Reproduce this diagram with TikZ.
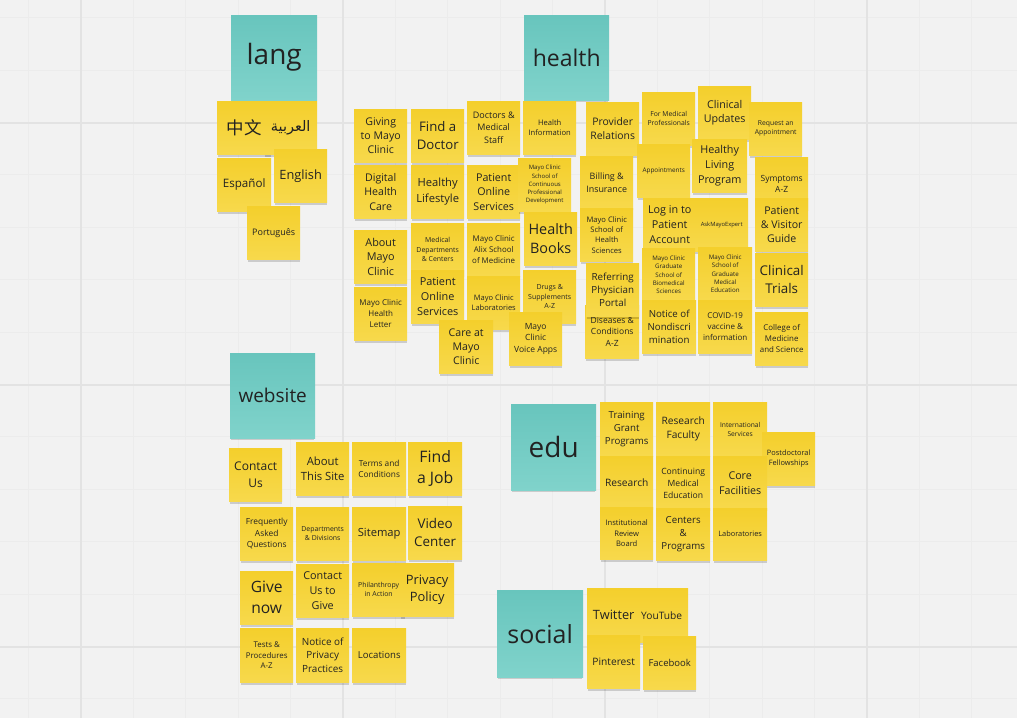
\documentclass[tikz,border=0pt]{standalone}
\usepackage{fontspec}
\setmainfont{Open Sans}
\newfontfamily\cjk{Noto Sans CJK SC}
\newfontfamily\arabicfont[Script=Arabic]{DejaVu Sans}
\TeXXeTstate=1
\usetikzlibrary{shadows}
\definecolor{bgc}{HTML}{F2F2F2}
\definecolor{gridminor}{HTML}{ECECEC}
\definecolor{gridmajor}{HTML}{E3E3E3}
\definecolor{noteyel}{HTML}{F4CF2C}
\definecolor{noteyel2}{HTML}{F7D94C}
\definecolor{tealtop}{HTML}{68C5BD}
\definecolor{tealbot}{HTML}{80D3CB}
\definecolor{ink}{HTML}{222222}
\tikzset{
  f/.code={\pgfmathsetmacro\tmpb{#1*1.36}\edef\tmpfont{\noexpand\fontsize{#1}{\tmpb}\noexpand\selectfont}\tikzset{font/.expand once=\tmpfont}},
  note/.style={anchor=north west, inner sep=0pt, align=center, text=ink,
    minimum width=53pt, minimum height=53pt,
    drop shadow={shadow xshift=0pt, shadow yshift=-3pt, opacity=0.16, fill=black, shadow scale=0.98}},
  yel/.style={note, top color=noteyel, bottom color=noteyel2},
  tl/.style={note, top color=tealtop, bottom color=tealbot, minimum width=85pt, minimum height=85pt},
}
\begin{document}
\begin{tikzpicture}[x=1pt,y=-1pt]
\useasboundingbox (0,0) rectangle (1017,718);
\fill[bgc] (0,0) rectangle (1017,718);
\foreach \i in {0,...,19} \draw[gridminor, line width=0.9pt] ({28.6+52.4*\i},0) -- ({28.6+52.4*\i},718);
\foreach \i in {0,...,13} \draw[gridminor, line width=0.9pt] (0,{17.6+52.4*\i}) -- (1017,{17.6+52.4*\i});
\foreach \xx in {81,343,605,867} \draw[gridmajor, line width=1.8pt] (\xx,0) -- (\xx,718);
\foreach \yy in {122.6,384.8,646.8} \draw[gridmajor, line width=1.8pt] (0,\yy) -- (1017,\yy);

% ---------- lang ----------
\node[tl, minimum width=86pt, f=28] (lang) at (231,15) {lang};
\node[yel, minimum width=54pt, f=17.5] (lzh) at (217,101) {\cjk 中文};
\node[yel, f=14.5] (lar) at (264,101) {\arabicfont\beginR العربية\endR};
\node[yel, minimum width=54pt, f=11.6] (les) at (217,158) {Español};
\node[yel, f=12.8] (len) at (274,149) {English};
\node[yel, f=9] (lpt) at (247,206) {Português};

% ---------- health ----------
\node[tl, f=23] (health) at (524,15) {health};
\node[yel, f=10.6] (hgiving) at (354,109) {Giving\\to Mayo\\Clinic};
\node[yel, f=13.2] (hfind) at (411,109) {Find a\\Doctor};
\node[yel, f=9] (hdocs) at (467,101) {Doctors \&\\Medical\\Staff};
\node[yel, f=7.6] (hinfo) at (523,101) {Health\\Information};
\node[yel, f=10.4] (hprov) at (586,102) {Provider\\Relations};
\node[yel, f=6.8] (hformed) at (642,92) {For Medical\\Professionals};
\node[yel, f=10.7] (hclin) at (698,86) {Clinical\\Updates};
\node[yel, f=6.8] (hreq) at (749,102) {Request an\\Appointment};
\node[yel, f=10.6] (hdigital) at (354,165) {Digital\\Health\\Care};
\node[yel, f=11.2] (hhealthy) at (411,165) {Healthy\\Lifestyle};
\node[yel, f=10.7] (hpos) at (467,165) {Patient\\Online\\Services};
\node[yel, f=6] (hcpd) at (518,158) {Mayo Clinic\\School of\\Continuous\\Professional\\Development};
\node[yel, f=8.9] (hbill) at (580,156) {Billing \&\\Insurance};
\node[yel, f=6.4] (happ) at (637,144) {Appointments};
\node[yel, minimum width=55pt, f=10.8] (hhlp) at (692,139) {Healthy\\Living\\Program};
\node[yel, f=8.5] (hsymp) at (755,157) {Symptoms\\A-Z};
\node[yel, f=14.4] (hbooks) at (524,212) {Health\\Books};
\node[yel, f=7.6] (hmsh) at (580,208) {Mayo Clinic\\School of\\Health\\Sciences};
\node[yel, f=10.8] (hlogin) at (643,198) {Log in to\\Patient\\Account};
\node[yel, f=5.8] (hask) at (695,198) {AskMayoExpert};
\node[yel, f=10.6] (hpvg) at (755,198) {Patient\\\& Visitor\\Guide};
\node[yel, f=10.8] (habout) at (354,230) {About\\Mayo\\Clinic};
\node[yel, f=6.9] (hmeddep) at (411,223) {Medical\\Departments\\\& Centers};
\node[yel, f=10.9] (hpos2) at (411,270) {Patient\\Online\\Services};
\node[yel, f=7.9] (halix) at (467,223) {Mayo Clinic\\Alix School\\of Medicine};
\node[yel, f=7.5] (hmcl) at (467,276) {Mayo Clinic\\Laboratories};
\node[yel, f=7] (hdrugs) at (523,270) {Drugs \&\\Supplements\\A-Z};
\node[yel, f=8] (hmchl) at (354,287) {Mayo Clinic\\Health\\Letter};
\node[yel, minimum width=54pt, f=8.5] (hdis) at (585,305) {Diseases \&\\Conditions\\A-Z};
\node[yel, f=9.8] (href) at (586,263) {Referring\\Physician\\Portal};
\node[yel, f=6.2] (hgsbs) at (642,248) {Mayo Clinic\\Graduate\\School of\\Biomedical\\Sciences};
\node[yel, minimum width=54pt, f=6.2] (hsgme) at (698,247) {Mayo Clinic\\School of\\Graduate\\Medical\\Education};
\node[yel, f=13.4] (htrials) at (755,253) {Clinical\\Trials};
\node[yel, minimum width=54pt, f=9.7] (hnondisc) at (642,300) {Notice of\\Nondiscri\\mination};
\node[yel, minimum width=54pt, f=8] (hcovid) at (698,300) {COVID-19\\vaccine \&\\information};
\node[yel, f=7.9] (hcollege) at (755,312) {College of\\Medicine\\and Science};
\node[yel, minimum width=54pt, f=10.6] (hcare) at (439,320) {Care at\\Mayo\\Clinic};
\node[yel, f=8.5] (hvoice) at (509,312) {Mayo\\Clinic\\Voice Apps};

% ---------- website ----------
\node[tl, f=19] (website) at (230,353) {website};
\node[yel, f=12] (wcontact) at (229,448) {Contact\\Us};
\node[yel, f=11.3] (wabout) at (296,442) {About\\This Site};
\node[yel, minimum width=54pt, f=8.3] (wterms) at (352,442) {Terms and\\Conditions};
\node[yel, minimum width=54pt, f=15.8] (wjob) at (408,442) {Find\\a Job};
\node[yel, f=8.4] (wfaq) at (240,507) {Frequently\\Asked\\Questions};
\node[yel, f=6.9] (wdept) at (296,507) {Departments\\\& Divisions};
\node[yel, minimum width=54pt, f=11.2] (wsitemap) at (352,507) {Sitemap};
\node[yel, minimum width=54pt, f=13.4] (wvideo) at (408,506) {Video\\Center};
\node[yel, f=15.6] (wgive) at (240,571) {Give\\now};
\node[yel, f=10.8] (wcutg) at (296,564) {Contact\\Us to\\Give};
\node[yel, f=6.9] (wphil) at (352,563) {Philanthropy\\in Action};
\node[yel, minimum width=54pt, f=12.9] (wpriv) at (400,563) {Privacy\\Policy};
\node[yel, minimum height=54pt, f=7.9] (wtests) at (240,628) {Tests \&\\Procedures\\A-Z};
\node[yel, minimum height=54pt, f=9.9] (wnopp) at (296,628) {Notice of\\Privacy\\Practices};
\node[yel, minimum width=54pt, minimum height=54pt, f=9.6] (wloc) at (352,628) {Locations};

% ---------- edu ----------
\node[tl, minimum height=86pt, f=28] (edu) at (511,404) {edu};
\node[yel, minimum height=54pt, f=9.7] (etgp) at (600,402) {Training\\Grant\\Programs};
\node[yel, minimum width=54pt, minimum height=54pt, f=10.2] (erfac) at (656,402) {Research\\Faculty};
\node[yel, minimum width=54pt, minimum height=54pt, f=6.7] (eintl) at (713,402) {International\\Services};
\node[yel, f=7.4] (epost) at (762,432) {Postdoctoral\\Fellowships};
\node[yel, f=10.2] (eres) at (600,456) {Research};
\node[yel, minimum width=54pt, minimum height=54pt, f=8.6] (ecme) at (656,456) {Continuing\\Medical\\Education};
\node[yel, minimum width=54pt, minimum height=54pt, f=10.7] (ecore) at (713,456) {Core\\Facilities};
\node[yel, minimum height=52pt, f=7.6] (eirb) at (600,507) {Institutional\\Review\\Board};
\node[yel, minimum width=54pt, minimum height=52pt, f=9.7] (ecap) at (656,508) {Centers\\\&\\Programs};
\node[yel, minimum width=54pt, minimum height=52pt, f=7.4] (elabs) at (713,508) {Laboratories};

% ---------- social ----------
\node[tl, minimum width=86pt, minimum height=87pt, f=25] (social) at (497,590) {social};
\node[yel, minimum height=54pt, f=12.8] (stwitter) at (587,588) {Twitter};
\node[yel, minimum height=54pt, f=10.2] (syoutube) at (635,588) {YouTube};
\node[yel, f=10.2] (spinterest) at (587,635) {Pinterest};
\node[yel, f=9.5] (sfacebook) at (643,636) {Facebook};
\end{tikzpicture}
\end{document}
